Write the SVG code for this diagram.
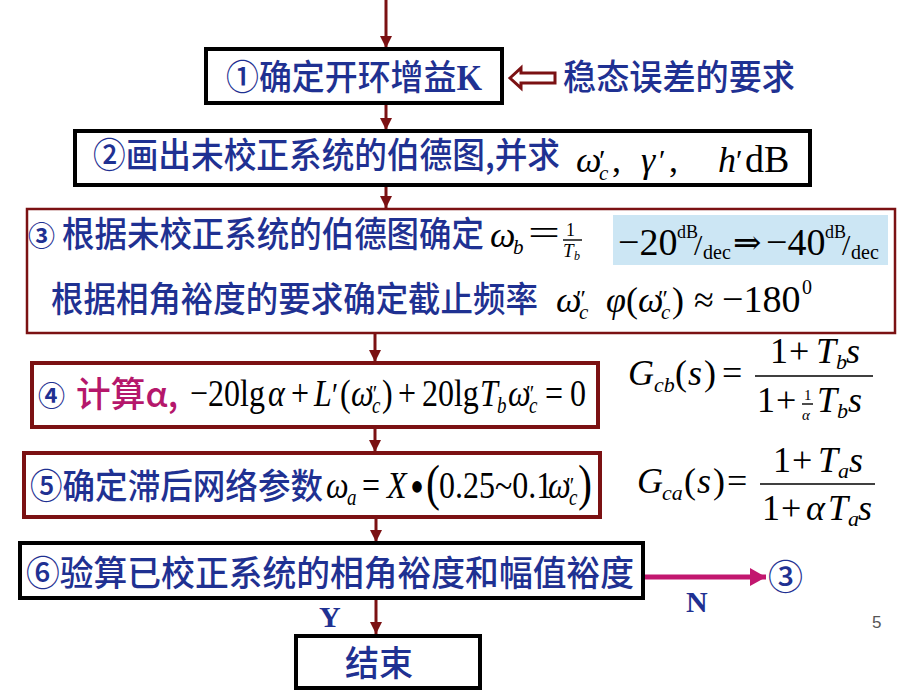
<svg xmlns="http://www.w3.org/2000/svg" width="920" height="690" viewBox="0 0 920 690">
<defs>
<style>
.cn{font-family:'Noto Sans CJK SC','Noto Sans',sans-serif;font-weight:500;font-size:35px;fill:#1f3192;}
.cs{font-family:'Noto Sans CJK SC','Noto Sans',sans-serif;font-weight:bold;font-size:27px;fill:#1f3192;}
.m{font-family:'Liberation Serif','Times New Roman',serif;font-size:34px;fill:#000;}
.i{font-style:italic;}
.s{font-size:21px;}
.bk{fill:#fff;stroke:#000;stroke-width:4;}
.rd{fill:#fff;stroke:#7b1113;stroke-width:4;}
.rdt{fill:#fff;stroke:#7b1113;stroke-width:2.5;}
.yn{font-family:'Liberation Serif','Times New Roman',serif;font-weight:bold;font-size:30px;fill:#1f3192;}
.fl{stroke:#000;stroke-width:1.4;}
</style>
<marker id="ah" viewBox="0 0 12 12" refX="12" refY="6" markerWidth="12" markerHeight="12" markerUnits="userSpaceOnUse" orient="auto">
<path d="M0,0 L12,6 L0,12 z" fill="#7b1113"/>
</marker>
<marker id="ahm" viewBox="0 0 16 18" refX="16" refY="9" markerWidth="16" markerHeight="18" markerUnits="userSpaceOnUse" orient="auto">
<path d="M0,0 L16,9 L0,18 z" fill="#c2176f"/>
</marker>
</defs>
<rect width="920" height="690" fill="#fff"/>

<g id="connectors" stroke="#7b1113" stroke-width="3" fill="none">
<line x1="386" y1="0" x2="386" y2="48" marker-end="url(#ah)"/>
<line x1="386" y1="103" x2="386" y2="130" marker-end="url(#ah)"/>
<line x1="386" y1="185" x2="386" y2="208" marker-end="url(#ah)"/>
<line x1="375" y1="333" x2="375" y2="362" marker-end="url(#ah)"/>
<line x1="375" y1="428" x2="375" y2="452" marker-end="url(#ah)"/>
<line x1="376" y1="517" x2="376" y2="542" marker-end="url(#ah)"/>
<line x1="376" y1="598" x2="376" y2="634" marker-end="url(#ah)"/>
<line x1="643" y1="577" x2="766" y2="577" stroke="#c2176f" stroke-width="5" marker-end="url(#ahm)"/>
<path d="M510,78 L521,68 L521,73 L555,73 L555,83 L521,83 L521,88 Z" fill="#fff" stroke="#7b1113" stroke-width="3" stroke-linejoin="miter"/>
</g>

<g id="n1">
<rect class="bk" x="206" y="49" width="296" height="54"/>
<text class="cn" x="226" y="90" textLength="256" lengthAdjust="spacingAndGlyphs">①确定开环增益<tspan font-family="'Liberation Serif',serif" font-weight="bold">K</tspan></text>
</g>
<g id="req">
<text class="cn" x="563" y="90" textLength="232" lengthAdjust="spacingAndGlyphs">稳态误差的要求</text>
</g>

<g id="n2">
<rect class="bk" x="75" y="131" width="735" height="54"/>
<text class="cn" x="93" y="168" textLength="467" lengthAdjust="spacingAndGlyphs">②画出未校正系统的伯德图,并求</text>
<g class="m">
<text class="i" x="576" y="172" font-size="36">ω</text>
<text x="599" y="170" font-size="30">′</text>
<text class="i s" x="599" y="180">c</text>
<text x="612" y="172" font-size="36">,</text>
<text class="i" x="641" y="172" font-size="36">γ</text>
<text x="659" y="170" font-size="30">′</text>
<text x="669" y="172" font-size="36">,</text>
<text class="i" x="718" y="172" font-size="36">h</text>
<text x="736" y="170" font-size="30">′</text>
<text x="745" y="172" font-size="38">dB</text>
</g>
</g>

<g id="n3">
<rect class="rdt" x="27" y="209" width="868" height="124"/>
<rect x="613" y="215" width="275" height="50" fill="#cce6f4"/>
<text class="cs" x="28" y="246">③</text>
<text class="cn" x="62" y="247" textLength="422" lengthAdjust="spacingAndGlyphs">根据未校正系统的伯德图确定</text>
<g class="m">
<text class="i" x="490" y="247" font-size="36">ω</text>
<text class="i s" x="513" y="254">b</text>
<text x="528" y="245" font-size="36" textLength="32" lengthAdjust="spacingAndGlyphs">=</text>
<text x="566" y="236" font-size="18">1</text>
<line class="fl" x1="563" y1="240" x2="582" y2="240" stroke-width="1.2"/>
<text class="i" x="563" y="257" font-size="19">T</text>
<text class="i" x="574" y="260" font-size="12">b</text>
</g>
<g class="m">
<text x="618" y="255" font-size="38">−20</text>
<text x="677" y="238" font-size="18">dB</text>
<text x="694" y="255" font-size="30">/</text>
<text x="703" y="259" font-size="20">dec</text>
<text x="733" y="254" font-size="34" font-family="'DejaVu Serif',serif">⇒</text>
<text x="766" y="255" font-size="38">−40</text>
<text x="825" y="238" font-size="18">dB</text>
<text x="842" y="255" font-size="30">/</text>
<text x="851" y="259" font-size="20">dec</text>
</g>
<text class="cn" x="51" y="312" textLength="487" lengthAdjust="spacingAndGlyphs">根据相角裕度的要求确定截止频率</text>
<g class="m">
<text class="i" x="556" y="312" font-size="36">ω</text>
<text x="576" y="306" font-size="24">″</text>
<text class="i s" x="579" y="319">c</text>
<text class="i" x="606" y="312" font-size="36">φ</text>
<text x="626" y="312" font-size="36">(</text>
<text class="i" x="638" y="312" font-size="36">ω</text>
<text x="658" y="306" font-size="24">″</text>
<text class="i s" x="661" y="319">c</text>
<text x="672" y="312" font-size="36">)</text>
<text x="694" y="312" font-size="36">≈</text>
<text x="722" y="312" font-size="38">−180</text>
<text x="802" y="294" font-size="20">0</text>
</g>
</g>

<g id="n4">
<rect class="rd" x="32" y="363" width="566" height="64"/>
<text class="cs" x="38" y="406">④</text>
<text class="cn" x="76" y="407" textLength="102" lengthAdjust="spacingAndGlyphs" font-weight="bold" style="fill:#b5176b">计算α,</text>
<g class="m" transform="translate(190,406) scale(1,1.2)">
<text x="0" y="0" font-size="32">−20lg</text>
<text class="i" x="78" y="0" font-size="32">α</text>
<text x="101" y="0" font-size="32">+</text>
<text class="i" x="124" y="0" font-size="32">L</text>
<text x="142" y="0" font-size="28">′</text>
<text x="150" y="0" font-size="32">(</text>
<text class="i" x="161" y="0" font-size="32">ω</text>
<text x="179" y="-4" font-size="20">″</text>
<text class="i" x="182" y="6" font-size="19">c</text>
<text x="192" y="0" font-size="32">)</text>
<text x="208" y="0" font-size="32">+</text>
<text x="232" y="0" font-size="32">20lg</text>
<text class="i" x="290" y="0" font-size="32">T</text>
<text class="i" x="307" y="6" font-size="19">b</text>
<text class="i" x="318" y="0" font-size="32">ω</text>
<text x="336" y="-4" font-size="20">″</text>
<text class="i" x="339" y="6" font-size="19">c</text>
<text x="355" y="0" font-size="32">=</text>
<text x="380" y="0" font-size="32">0</text>
</g>
</g>

<g id="gcb" class="m">
<text class="i" x="628" y="385" font-size="36">G</text>
<text class="i" x="654" y="392" font-size="22">cb</text>
<text x="675" y="385" font-size="36">(</text>
<text class="i" x="688" y="385" font-size="36">s</text>
<text x="704" y="385" font-size="36">)</text>
<text x="722" y="385" font-size="36">=</text>
<line class="fl" x1="755" y1="376" x2="873" y2="376"/>
<text x="770" y="363" font-size="36">1</text>
<text x="789" y="363" font-size="36">+</text>
<text class="i" x="816" y="363" font-size="36">T</text>
<text class="i" x="836" y="369" font-size="22">b</text>
<text class="i" x="846" y="363" font-size="36">s</text>
<text x="757" y="412" font-size="36">1</text>
<text x="776" y="412" font-size="36">+</text>
<text x="804" y="400" font-size="15">1</text>
<line class="fl" x1="802" y1="404" x2="813" y2="404" stroke-width="1"/>
<text class="i" x="802" y="420" font-size="15">α</text>
<text class="i" x="817" y="412" font-size="36">T</text>
<text class="i" x="837" y="418" font-size="22">b</text>
<text class="i" x="848" y="412" font-size="36">s</text>
</g>

<g id="n5">
<rect class="rd" x="24" y="453" width="576" height="64"/>
<text class="cn" x="30" y="499" textLength="293" lengthAdjust="spacingAndGlyphs">⑤确定滞后网络参数</text>
<g class="m" transform="translate(326,498) scale(1,1.2)">
<text class="i" x="0" y="0" font-size="32">ω</text>
<text class="i" x="21" y="6" font-size="19">a</text>
<text x="36" y="0" font-size="32">=</text>
<text class="i" x="61" y="0" font-size="32">X</text>
<text x="84" y="4" font-size="40">•</text>
<text x="100" y="2" font-size="42">(</text>
<text x="113" y="0" font-size="32">0.25~0.1</text>
<text class="i" x="222" y="0" font-size="32">ω</text>
<text x="240" y="-4" font-size="20">″</text>
<text class="i" x="243" y="6" font-size="19">c</text>
<text x="252" y="2" font-size="42">)</text>
</g>
</g>

<g id="gca" class="m">
<text class="i" x="637" y="493" font-size="36">G</text>
<text class="i" x="662" y="500" font-size="22">ca</text>
<text x="684" y="493" font-size="36">(</text>
<text class="i" x="697" y="493" font-size="36">s</text>
<text x="713" y="493" font-size="36">)</text>
<text x="727" y="493" font-size="36">=</text>
<line class="fl" x1="760" y1="484" x2="875" y2="484"/>
<text x="773" y="472" font-size="36">1</text>
<text x="792" y="472" font-size="36">+</text>
<text class="i" x="818" y="472" font-size="36">T</text>
<text class="i" x="838" y="478" font-size="22">a</text>
<text class="i" x="849" y="472" font-size="36">s</text>
<text x="762" y="520" font-size="36">1</text>
<text x="781" y="520" font-size="36">+</text>
<text class="i" x="806" y="520" font-size="36">α</text>
<text class="i" x="828" y="520" font-size="36">T</text>
<text class="i" x="848" y="526" font-size="22">a</text>
<text class="i" x="858" y="520" font-size="36">s</text>
</g>

<g id="n6">
<rect class="bk" x="20" y="543" width="623" height="55"/>
<text class="cn" x="26" y="586" textLength="608" lengthAdjust="spacingAndGlyphs">⑥验算已校正系统的相角裕度和幅值裕度</text>
</g>

<g id="goto3">
<text class="cn" x="768" y="590" font-weight="bold">③</text>
</g>

<g id="labels">
<text class="yn" x="319" y="627">Y</text>
<text class="yn" x="686" y="612">N</text>
<text x="872" y="628" font-family="'Liberation Sans',Arial,sans-serif" font-size="17" fill="#555">5</text>
</g>

<g id="end">
<rect class="bk" x="296" y="636" width="184" height="52"/>
<text class="cn" x="345" y="676" textLength="68" lengthAdjust="spacingAndGlyphs">结束</text>
</g>
</svg>
